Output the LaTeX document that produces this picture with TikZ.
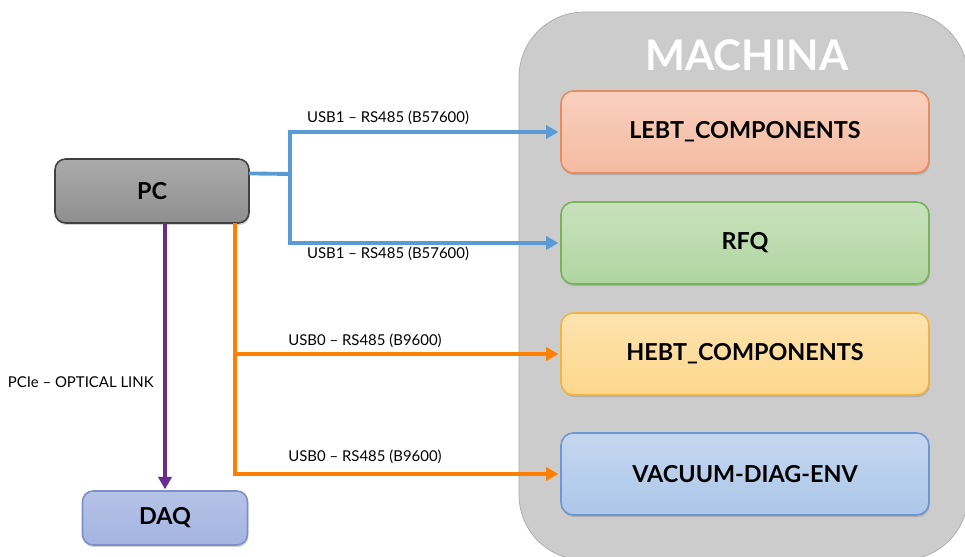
\documentclass[tikz,border=0pt]{standalone}
\usepackage{fontspec}
\setmainfont{Lato}
\usetikzlibrary{arrows.meta,positioning,calc,shadows}
\definecolor{machinagray}{RGB}{204,204,204}
\definecolor{machinaline}{RGB}{170,170,170}
\definecolor{lebtfill}{RGB}{245,187,161}
\definecolor{lebtline}{RGB}{228,140,95}
\definecolor{rfqfill}{RGB}{176,213,160}
\definecolor{rfqline}{RGB}{120,178,90}
\definecolor{hebtfill}{RGB}{253,215,140}
\definecolor{hebtline}{RGB}{240,180,70}
\definecolor{vacfill}{RGB}{172,198,233}
\definecolor{vacline}{RGB}{110,150,210}
\definecolor{pcfill}{RGB}{150,150,150}
\definecolor{daqfill}{RGB}{164,180,225}
\definecolor{daqline}{RGB}{125,143,200}
\definecolor{usbblue}{RGB}{91,155,213}
\definecolor{usborange}{RGB}{255,128,0}
\definecolor{pcipurple}{RGB}{102,45,145}

\begin{document}
\begin{tikzpicture}[x=0.02cm, y=-0.02cm, >={Triangle[length=7pt,width=7.5pt]},
    box/.style={draw, rounded corners=7pt, line width=0.9pt, minimum width=7.36cm, minimum height=1.64cm,
      align=center, font=\fontsize{13.3}{15}\selectfont\bfseries, inner sep=0pt, outer sep=0pt,
      drop shadow={shadow xshift=0.5pt, shadow yshift=-1.2pt, opacity=0.35}},
    hostbox/.style={draw, rounded corners=6pt, line width=0.9pt, align=center,
      font=\fontsize{13.3}{15}\selectfont\bfseries, inner sep=0pt, outer sep=0pt,
      drop shadow={shadow xshift=0.5pt, shadow yshift=-1.2pt, opacity=0.35}},
    lbl/.style={font=\fontsize{8.5}{10}\selectfont, inner sep=0pt},
    usbone/.style={draw=usbblue, line width=2.2pt},
    usbzero/.style={draw=usborange, line width=2.2pt},
    pcie/.style={draw=pcipurple, line width=2.2pt}]

  \useasboundingbox (0,0) rectangle (965,557);
  \clip (0,0) rectangle (965,557);

  % machina group
  \node[draw=machinaline, fill=machinagray, rounded corners=37pt, minimum width=8.98cm, minimum height=10.96cm,
    inner sep=0pt] (machina) at (743.5,286) {};
  \node[text=white, font=\fontsize{24}{28}\selectfont\bfseries] (machinatitle) at (747,55) {MACHINA};

  \node[box, top color=lebtfill!70, bottom color=lebtfill, draw=lebtline] (lebt) at (745,132) {LEBT\_COMPONENTS};
  \node[box, top color=rfqfill!70, bottom color=rfqfill, draw=rfqline] (rfq) at (745,243) {RFQ};
  \node[box, top color=hebtfill!70, bottom color=hebtfill, draw=hebtline] (hebt) at (745,354) {HEBT\_COMPONENTS};
  \node[box, top color=vacfill!70, bottom color=vacfill, draw=vacline] (vac) at (745,474) {VACUUM-DIAG-ENV};

  % host side
  \node[hostbox, top color=pcfill!80, bottom color=pcfill!95!black, draw=black!75,
    minimum width=3.88cm, minimum height=1.28cm] (pc) at (152,191) {PC};
  \node[hostbox, top color=daqfill!80, bottom color=daqfill, draw=daqline,
    minimum width=3.3cm, minimum height=1.08cm] (daq) at (165,518) {DAQ};

  % links
  \coordinate (bsplit) at (290,174);
  \draw[usbone] ([yshift=10pt]pc.east) -- (bsplit);
  \draw[usbone, ->] (bsplit) |- ([xshift=-1.5pt]lebt.west);
  \draw[usbone, ->] (bsplit) |- ([xshift=-1.5pt]rfq.west);
  \draw[usbzero, ->] ([xshift=-8pt]pc.south east) |- ([xshift=-1.5pt]hebt.west);
  \draw[usbzero, ->] ([xshift=-8pt]pc.south east) |- ([xshift=-1.5pt]vac.west);
  \draw[pcie, ->] (pc.south -| daq.north) -- ([yshift=1pt]daq.north);

  \node[lbl] (lblebt) at (388,118) {USB1 – RS485 (B57600)};
  \node[lbl] (lbrfq) at (388,254) {USB1 – RS485 (B57600)};
  \node[lbl] (lbhebt) at (365,341) {USB0 – RS485 (B9600)};
  \node[lbl] (lbvac) at (365,457) {USB0 – RS485 (B9600)};
  \node[lbl, anchor=east] (lbdaq) at (154,382) {PCIe – OPTICAL LINK};
\end{tikzpicture}
\end{document}
